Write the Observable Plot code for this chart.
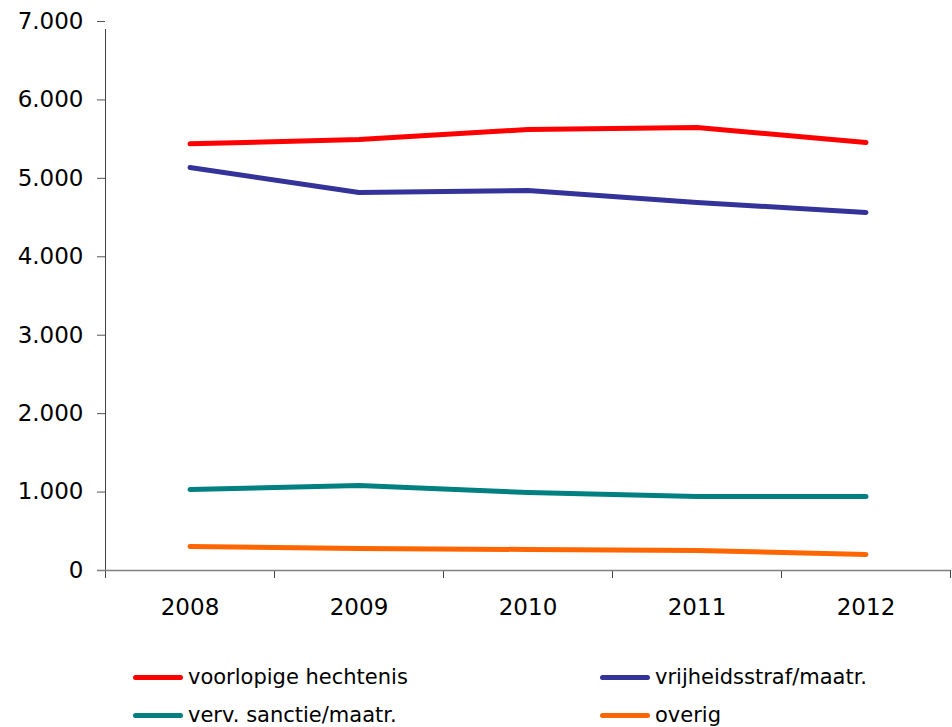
<!DOCTYPE html>
<html>
<head>
<meta charset="utf-8">
<script src="https://cdn.jsdelivr.net/npm/d3@7"></script>
<script src="https://cdn.jsdelivr.net/npm/@observablehq/plot@0.6"></script>
<style>
  body { margin: 0; background: #fff; font-family: "DejaVu Sans", Verdana, sans-serif; }
  #chart svg g[aria-label="y-axis tick"] path { stroke: #555; }
  #chart svg g[aria-label="x-axis tick"] path { stroke: #444; }
  #legend { position: relative; width: 952px; height: 87px; }
  .item { position: absolute; display: flex; align-items: center; height: 30px; font-size: 21px; color: #000; white-space: nowrap; }
  .sw { width: 50px; height: 5px; border-radius: 3px; margin-right: 5px; }
</style>
</head>
<body>
<div id="chart"></div>
<div id="legend"></div>
<script>
const years = [2008, 2009, 2010, 2011, 2012];
const seriesNames = ["voorlopige hechtenis", "vrijheidsstraf/maatr.", "verv. sanctie/maatr.", "overig"];
const seriesColors = ["#ff0000", "#333399", "#008080", "#ff6600"];
const voorlopigeHechtenis = [5440, 5495, 5623, 5648, 5457];
const vrijheidsstraf = [5138, 4820, 4845, 4692, 4565];
const vervSanctie = [1033, 1084, 995, 944, 944];
const overig = [306, 280, 268, 255, 204];
const yTicks = [0, 1000, 2000, 3000, 4000, 5000, 6000, 7000];

const seriesValues = [voorlopigeHechtenis, vrijheidsstraf, vervSanctie, overig];
const rows = [];
seriesNames.forEach((name, i) => {
  years.forEach((yr, j) => rows.push({series: name, year: yr, value: seriesValues[i][j]}));
});
const boundaries = years.map(y => y - 0.5).concat([years[years.length - 1] + 0.5]);
const nl = d3.formatLocale({decimal: ",", thousands: ".", grouping: [3], currency: ["€", ""]});
const fmt = nl.format(",d");

const chart = Plot.plot({
  width: 952,
  height: 640,
  marginLeft: 105,
  marginRight: 2,
  marginTop: 21,
  marginBottom: 70,
  style: {fontFamily: "'DejaVu Sans', Verdana, sans-serif", fontSize: "23px", color: "#000", background: "#fff"},
  x: {domain: [boundaries[0], boundaries[boundaries.length - 1]]},
  y: {domain: [0, 7000]},
  color: {domain: seriesNames, range: seriesColors},
  marks: [
    Plot.axisY({ticks: yTicks, tickFormat: fmt, tickSize: 8, tickPadding: 14, label: null}),
    Plot.axisX({ticks: years, tickFormat: d => String(d), tickSize: 0, tickPadding: 28, label: null}),
    Plot.axisX({ticks: boundaries, tickFormat: () => "", tickSize: 8, label: null}),
    Plot.ruleX([boundaries[0]], {y1: 0, y2: 7000, insetBottom: -8, stroke: "#444", strokeWidth: 1}),
    Plot.ruleY([0], {insetLeft: -8, stroke: "#808080", strokeWidth: 1.5}),
    Plot.line(rows, {x: "year", y: "value", z: "series", stroke: "series", strokeWidth: 5, strokeLinecap: "round", strokeLinejoin: "round"})
  ]
});
document.getElementById("chart").appendChild(chart);

const legend = document.getElementById("legend");
const pos = [[133, 22], [600, 22], [133, 60], [600, 60]];
seriesNames.forEach((name, i) => {
  const it = document.createElement("div");
  it.className = "item";
  it.style.left = pos[i][0] + "px";
  it.style.top = pos[i][1] + "px";
  const sw = document.createElement("span");
  sw.className = "sw";
  sw.style.background = seriesColors[i];
  const tx = document.createElement("span");
  tx.textContent = name;
  it.appendChild(sw);
  it.appendChild(tx);
  legend.appendChild(it);
});
</script>
</body>
</html>
